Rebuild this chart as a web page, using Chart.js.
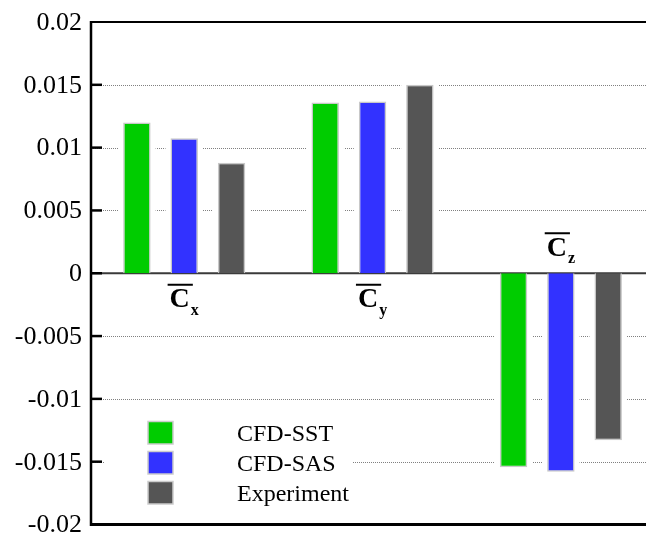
<!DOCTYPE html>
<html>
<head>
<meta charset="utf-8">
<script src="https://cdn.jsdelivr.net/npm/chart.js@4.4.1/dist/chart.umd.min.js"></script>
<style>
  html, body { margin: 0; padding: 0; background: #ffffff; overflow: hidden; }
  canvas { display: block; }
</style>
</head>
<body>
<canvas id="chart" width="646" height="539"></canvas>
<script>
// Mean force coefficients (C̄x, C̄y, C̄z) for two CFD models and the experiment
const categories = ['x', 'y', 'z'];
const seriesNames = ['CFD-SST', 'CFD-SAS', 'Experiment'];
const sstValues = [0.0120, 0.01359, -0.01545];
const sasValues = [0.01075, 0.01367, -0.0158];
const expValues = [0.0088, 0.0150, -0.0133];
const yTickValues = [-0.02, -0.015, -0.01, -0.005, 0, 0.005, 0.01, 0.015, 0.02];
const yTickLabels = ['-0.02', '-0.015', '-0.01', '-0.005', '0', '0.005', '0.01', '0.015', '0.02'];

const seriesColors = ['#00cc00', '#3232ff', '#555555'];
const serif = '"Liberation Serif", "Times New Roman", serif';

const seriesValues = [sstValues, sasValues, expValues];
const datasets = seriesNames.map((name, s) => ({
  label: name,
  data: seriesValues[s].map((v, i) => ({ x: i, y: v })),
  backgroundColor: seriesColors[s],
  borderColor: '#c8c8c8',
  borderWidth: 1.5,
  borderSkipped: 'start',
  categoryPercentage: 0.754,
  barPercentage: 0.58
}));

function line(ctx, x1, y1, x2, y2) {
  ctx.beginPath();
  ctx.moveTo(x1, y1);
  ctx.lineTo(x2, y2);
  ctx.stroke();
}

const framePlugin = {
  id: 'frame',
  beforeDatasetsDraw(chart) {
    const { ctx, chartArea: a, scales: { x, y } } = chart;
    ctx.save();

    // dotted grid lines
    ctx.strokeStyle = '#808080';
    ctx.lineWidth = 1;
    ctx.setLineDash([1, 1]);
    y.ticks.forEach(t => {
      if (t.value === 0 || t.value === y.min || t.value === y.max) return;
      const py = Math.round(y.getPixelForValue(t.value)) + 0.5;
      line(ctx, a.left, py, a.right, py);
    });
    ctx.setLineDash([]);

    // white margin around each bar
    ctx.fillStyle = '#ffffff';
    chart.data.datasets.forEach((ds, di) => {
      chart.getDatasetMeta(di).data.forEach(bar => {
        const p = bar.getProps(['x', 'y', 'base', 'width'], true);
        const top = Math.min(p.y, p.base) - 3;
        const bottom = Math.max(p.y, p.base) + 3;
        ctx.fillRect(p.x - p.width / 2 - 5, top, p.width + 10, bottom - top);
      });
    });

    // legend background
    ctx.fillRect(104, 410, 248, 102);

    // zero line
    const zy = y.getPixelForValue(0);
    ctx.strokeStyle = '#3a3a3a';
    ctx.lineWidth = 2;
    line(ctx, a.left, zy, a.right, zy);

    // frame: top, bottom, left axis
    ctx.strokeStyle = '#000000';
    ctx.lineWidth = 2;
    line(ctx, a.left, a.top, a.right, a.top);
    ctx.lineWidth = 3;
    line(ctx, a.left, a.bottom, a.right, a.bottom);
    ctx.lineWidth = 2.5;
    line(ctx, a.left, a.top - 1, a.left, a.bottom + 1.5);

    // inward tick marks and tick labels
    ctx.fillStyle = '#000000';
    ctx.font = '26px ' + serif;
    ctx.textAlign = 'right';
    ctx.textBaseline = 'middle';
    y.ticks.forEach(t => {
      const py = y.getPixelForValue(t.value);
      if (t.value !== y.min && t.value !== y.max) {
        line(ctx, a.left, py, a.left + 11, py);
      }
      const idx = yTickValues.indexOf(t.value);
      ctx.fillText(yTickLabels[idx], a.left - 9, py + 1);
    });
    ctx.restore();
  },
  afterDatasetsDraw(chart) {
    const { ctx, scales: { x, y } } = chart;
    ctx.save();

    // legend
    const boxL = 148, boxW = 25, boxH = 22.5, rowTop = 421.5, rowStep = 30, textX = 237;
    chart.data.datasets.forEach((ds, i) => {
      const top = rowTop + i * rowStep;
      ctx.fillStyle = ds.backgroundColor;
      ctx.fillRect(boxL, top, boxW, boxH);
      ctx.strokeStyle = '#cccccc';
      ctx.lineWidth = 1.5;
      ctx.strokeRect(boxL, top, boxW, boxH);
      ctx.fillStyle = '#000000';
      ctx.font = '24px ' + serif;
      ctx.textBaseline = 'alphabetic';
      ctx.textAlign = 'left';
      ctx.fillText(ds.label, textX, top + boxH / 2 + 8.5);
    });

    // category labels: overlined C with subscript
    const zy = y.getPixelForValue(0);
    categories.forEach((sub, i) => {
      const cx = x.getPixelForValue(i);
      const positive = seriesValues.every(vals => vals[i] >= 0);
      const base = positive ? zy + 34 : zy - 17.5;
      ctx.fillStyle = '#000000';
      ctx.font = 'bold 28px ' + serif;
      const wC = ctx.measureText('C').width;
      ctx.font = 'bold 16px ' + serif;
      const wS = ctx.measureText(sub).width;
      const start = cx - (wC + 1 + wS) / 2;
      ctx.font = 'bold 28px ' + serif;
      ctx.textAlign = 'left';
      ctx.textBaseline = 'alphabetic';
      ctx.fillText('C', start, base);
      ctx.font = 'bold 16px ' + serif;
      ctx.fillText(sub, start + wC + 1, base + 7.5);
      ctx.strokeStyle = '#000000';
      ctx.lineWidth = 2;
      const oy = base - 18.5 - 4;
      line(ctx, start - 2, oy, start + wC + 3, oy);
    });
    ctx.restore();
  }
};

function drawChart() {
  new Chart(document.getElementById('chart'), {
    type: 'bar',
    data: { datasets },
    options: {
      responsive: false,
      animation: false,
      layout: { padding: { top: 22, bottom: 14.5, left: 0, right: 0 } },
      plugins: { legend: { display: false }, tooltip: { enabled: false } },
      scales: {
        x: {
          type: 'linear',
          display: false,
          offset: false,
          min: -0.495,
          max: 2.452,
          afterBuildTicks: scale => { scale.ticks = categories.map((c, i) => ({ value: i })); },
          grid: { display: false }
        },
        y: {
          type: 'linear',
          min: -0.02,
          max: 0.02,
          afterBuildTicks: scale => { scale.ticks = yTickValues.map(v => ({ value: v })); },
          afterFit: scale => { scale.width = 91; },
          grid: { display: false, drawTicks: false },
          border: { display: false },
          ticks: { display: false }
        }
      }
    },
    plugins: [framePlugin]
  });
}

// make sure the serif faces are ready before the first paint
Promise.all([
  document.fonts.load('26px "Liberation Serif"'),
  document.fonts.load('bold 28px "Liberation Serif"')
]).then(drawChart, drawChart);
</script>
</body>
</html>
